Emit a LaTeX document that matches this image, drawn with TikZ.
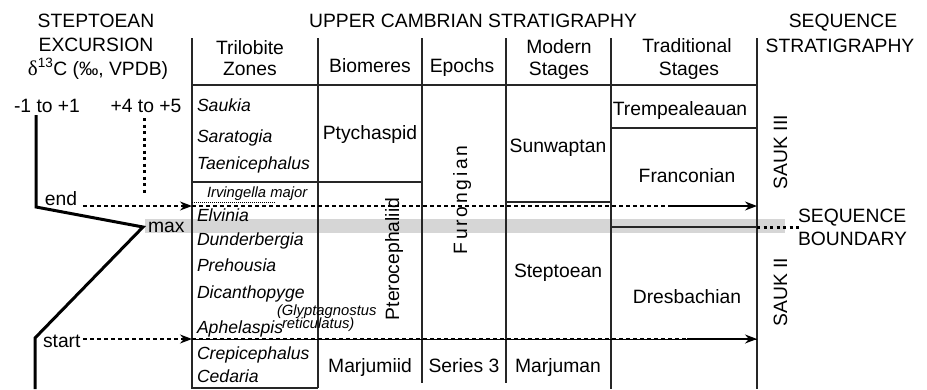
\documentclass[tikz,border=0pt]{standalone}
\usepackage{fontspec}
\setmainfont{Liberation Sans}
\newfontfamily\deltafont{Liberation Serif}
\usetikzlibrary{arrows.meta}
\begin{document}
\begin{tikzpicture}[x=1pt,y=-1pt,
  every node/.style={inner sep=0pt, outer sep=0pt},
  lbl/.style={font=\fontsize{19.3}{22}\selectfont, anchor=base},
  zone/.style={font=\fontsize{17.6}{20}\selectfont\itshape, anchor=base west},
  smz/.style={font=\fontsize{14.8}{16}\selectfont\itshape, anchor=base west},
  gridln/.style={line width=1.1pt, draw=black!85},
  dashln/.style={line width=1.2pt, dash pattern=on 4pt off 3pt},
  arr/.style={-{Stealth[length=12pt,width=9pt]}},
  excur/.style={line width=3pt, line join=miter},
  dotln/.style={line width=3pt, dash pattern=on 3pt off 3.5pt},
]
\useasboundingbox (0,0) rectangle (927,389);
% gray band
\fill[black!16] (145,219) rectangle (785,233);

% headers
\node[lbl] (h1) at (96,27) {STEPTOEAN};
\node[lbl] (h2) at (96,51) {EXCURSION};
\node[lbl] (h3) at (98,75) {{\deltafont\fontsize{21}{22}\selectfont δ}\textsuperscript{13}C (‰, VPDB)};
\node[lbl] (h4) at (473,27) {UPPER CAMBRIAN STRATIGRAPHY};
\node[lbl] (h5) at (843,27) {SEQUENCE};
\node[lbl] (h6) at (840,52) {STRATIGRAPHY};

\node[lbl] (c1a) at (250,54) {Trilobite};
\node[lbl] (c1b) at (250,75) {Zones};
\node[lbl] (c2) at (370,72) {Biomeres};
\node[lbl] (c3) at (462,72) {Epochs};
\node[lbl] (c4a) at (559,53) {Modern};
\node[lbl] (c4b) at (559,75) {Stages};
\node[lbl] (c5a) at (687,52) {Traditional};
\node[lbl] (c5b) at (689,75) {Stages};

\node[lbl] (lo) at (47,112) {-1 to +1};
\node[lbl] (hi) at (146,112) {+4 to +5};

% grid
\draw[gridln] (192,38) -- (192,388) -- (318,388);
\draw[gridln] (318,38) -- (318,388);
\draw[gridln] (422,38) -- (422,383);
\draw[gridln] (506,38) -- (506,383);
\draw[gridln] (611,38) -- (611,389);
\draw[gridln] (757,38) -- (757,389);
\draw[gridln] (192,85) -- (757,85);
\draw[gridln] (192,182) -- (422,182);
\draw[gridln] (611,128) -- (757,128);
\draw[gridln] (506,202) -- (611,202);
\draw[gridln] (611,227) -- (757,227);
\draw[line width=0.6pt] (192,339) -- (757,339);
\draw[line width=0.7pt, dash pattern=on 1pt off 1pt] (192,202) -- (275,202);
\draw[dotln] (757,227) -- (800,227);

% zones
\node[zone] (z1) at (197,111) {Saukia};
\node[zone] (z2) at (197,142) {Saratogia};
\node[zone] (z3) at (197,169) {Taenicephalus};
\node[smz] (z4) at (207,197) {Irvingella major};
\node[zone] (z5) at (197,221) {Elvinia};
\node[zone] (z6) at (197,245) {Dunderbergia};
\node[zone] (z7) at (197,271) {Prehousia};
\node[zone] (z8) at (197,298) {Dicanthopyge};
\node[smz] (z9a) at (277,315) {(Glyptagnostus};
\node[smz] (z9b) at (282,328) {reticulatus)};
\node[zone] (z10) at (197,333) {Aphelaspis};
\node[zone] (z11) at (197,359) {Crepicephalus};
\node[zone] (z12) at (197,382) {Cedaria};

% biomeres etc.
\node[lbl] (b1) at (370,139) {Ptychaspid};
\node[lbl, rotate=90] (b2) at (399,259) {Pterocephaliid};
\node[lbl] (b3) at (370,372) {Marjumiid};
\node[lbl, rotate=90] (e1) at (467,200) {\addfontfeature{LetterSpace=14}Furongian};
\node[lbl] (e2) at (464,372) {Series 3};
\node[lbl] (m1) at (558,152) {Sunwaptan};
\node[lbl] (m2) at (558,277) {Steptoean};
\node[lbl] (m3) at (558,372) {Marjuman};
\node[lbl] (t1) at (680,115) {Trempealeauan};
\node[lbl] (t2) at (687,182) {Franconian};
\node[lbl] (t3) at (687,303) {Dresbachian};
\node[lbl, rotate=90] (s1) at (787,152) {SAUK III};
\node[lbl, rotate=90] (s2) at (787,292) {SAUK II};
\node[lbl, anchor=base west] (sb1) at (798,222) {SEQUENCE};
\node[lbl, anchor=base west] (sb2) at (798,245) {BOUNDARY};

% excursion curve
\draw[excur] (36,115) -- (36,207) -- (143,227) -- (35,338) -- (35,389);
\draw[dotln] (144,118) -- (144,196);
\node[lbl, anchor=base west] (endl) at (45,205) {end};
\node[lbl, anchor=base west] (maxl) at (148,232) {max};
\node[lbl, anchor=base west] (startl) at (43,347) {start};

% arrows
\coordinate (ea) at (83,206);
\coordinate (eb) at (192,206);
\coordinate (ec) at (672,206);
\coordinate (ed) at (757,206);
\draw[dashln, arr] (ea) -- (eb);
\draw[dashln] (eb) -- (ec);
\draw[line width=1.2pt, arr] (ec) -- (ed);
\coordinate (sa) at (83,339);
\coordinate (sb) at (192,339);
\coordinate (sc) at (687,339);
\coordinate (sd) at (757,339);
\draw[dashln, arr] (sa) -- (sb);
\draw[dashln] (sb) -- (sc);
\draw[line width=1.2pt, arr] (sc) -- (sd);
\end{tikzpicture}
\end{document}
